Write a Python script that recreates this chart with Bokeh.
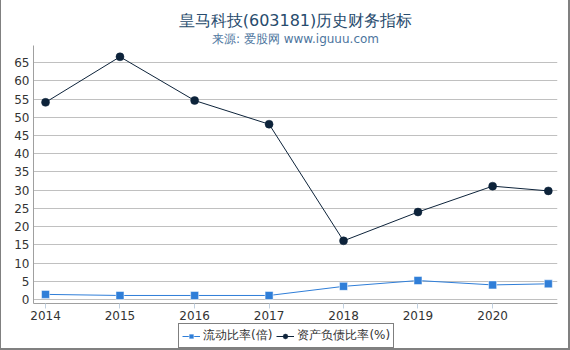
import pandas as pd
from bokeh.plotting import figure
from bokeh.layouts import column
from bokeh.models import (Range1d, FixedTicker, DatetimeTickFormatter, Legend,
                          LegendItem, Title)
from bokeh.embed import file_html
from bokeh.resources import INLINE

dates = ["2014-12-31", "2015-12-31", "2016-12-31", "2017-12-31",
         "2018-12-31", "2019-12-31", "2020-12-31", "2021-09-30"]
current_ratio = [1.4, 1.1, 1.1, 1.1, 3.6, 5.2, 4.0, 4.3]
debt_ratio = [54.1, 66.6, 54.6, 48.1, 16.1, 24.0, 31.1, 29.8]
tick_dates = ["2014-12-31", "2015-12-31", "2016-12-31", "2017-12-31",
              "2018-12-31", "2019-12-31", "2020-12-31"]
y_ticks = list(range(0, 70, 5))
title_text = "皇马科技(603181)历史财务指标"
subtitle_text = "来源: 爱股网 www.iguuu.com"
name1 = "流动比率(倍)"
name2 = "资产负债比率(%)"

x = pd.to_datetime(dates)
tick_ms = [pd.Timestamp(d).value / 1e6 for d in tick_dates]

FONT = "DejaVu Sans"
C1 = "#2f7ed8"
C2 = "#0d233a"

p = figure(width=567, height=322, output_backend="svg", toolbar_location=None,
           x_axis_type="datetime",
           x_range=Range1d(pd.Timestamp("2014-11-02"), pd.Timestamp("2021-11-14")),
           y_range=Range1d(-1.1, 69.7),
           min_border_left=32, min_border_right=11, min_border_top=45, min_border_bottom=18)
p.outline_line_color = None
p.background_fill_color = "white"
p.border_fill_color = "white"

p.title.visible = False
t2 = Title(text=subtitle_text, align="center", text_font=FONT, text_font_size="12px",
           text_color="#4d759e", text_font_style="normal", offset=0, standoff=0)
t1 = Title(text=title_text, align="center", text_font=FONT, text_font_size="16px",
           text_color="#274b6d", text_font_style="normal", standoff=0)
p.add_layout(t2, "above")
p.add_layout(t1, "above")

# axes
p.xaxis.ticker = FixedTicker(ticks=tick_ms)
p.xaxis.formatter = DatetimeTickFormatter(years="%Y", months="%Y", days="%Y", hours="%Y")
p.yaxis.ticker = FixedTicker(ticks=y_ticks)
for ax in (p.xaxis, p.yaxis):
    ax.major_label_text_font = FONT
    ax.major_label_text_font_size = "12px"
    ax.major_label_text_color = "#333333"
    ax.minor_tick_line_color = None
    ax.axis_line_color = "#a0a0a0"
    ax.major_tick_line_color = "#c0d0e0"
p.xaxis.major_tick_in = 0
p.xaxis.major_tick_out = 5
p.xaxis.major_label_standoff = 2
p.yaxis.major_tick_in = 0
p.yaxis.major_tick_out = 0
p.yaxis.major_label_standoff = 4
p.xgrid.grid_line_color = None
p.ygrid.grid_line_color = "#c0c0c0"

p.line(x, current_ratio, line_color=C1, line_width=1)
p.scatter(x, current_ratio, marker="square", size=8, fill_color=C1,
          line_color="#ffffff", line_width=0.5)
p.line(x, debt_ratio, line_color=C2, line_width=1)
p.scatter(x, debt_ratio, marker="circle", size=8, fill_color=C2,
          line_color=C2, line_width=0.5)

# legend strip below the chart
lf = figure(width=567, height=26, output_backend="svg", toolbar_location=None,
            x_range=Range1d(0, 1), y_range=Range1d(0, 1),
            min_border=0, min_border_left=0, min_border_right=0,
            min_border_top=0, min_border_bottom=0)
lf.axis.visible = False
lf.grid.visible = False
lf.outline_line_color = None
lf.title.visible = False
ll1 = lf.line([-10, -11], [-10, -11], line_color=C1, line_width=1)
ls1 = lf.scatter([-10], [-10], marker="square", size=8, fill_color=C1,
                 line_color="#ffffff", line_width=0.5)
ll2 = lf.line([-10, -11], [-10, -11], line_color=C2, line_width=1)
ls2 = lf.scatter([-10], [-10], marker="circle", size=7, fill_color=C2,
                 line_color=C2, line_width=0.5)
legend = Legend(items=[LegendItem(label=name1, renderers=[ll1, ls1]),
                       LegendItem(label=name2, renderers=[ll2, ls2])],
                orientation="horizontal", location=(145, 0),
                label_text_font=FONT, label_text_font_size="12px", label_text_color="#333333",
                border_line_color="black", border_line_width=1,
                glyph_width=18, glyph_height=12, label_standoff=3, spacing=4,
                padding=3, margin=0, label_height=14)
lf.add_layout(legend)

layout = column(p, lf, spacing=0,
                styles={"border-left": "1px solid #808080",
                        "border-right": "2px solid #808080",
                        "border-bottom": "2px solid #808080"})
open("out.html", "w").write(file_html(layout, INLINE))
